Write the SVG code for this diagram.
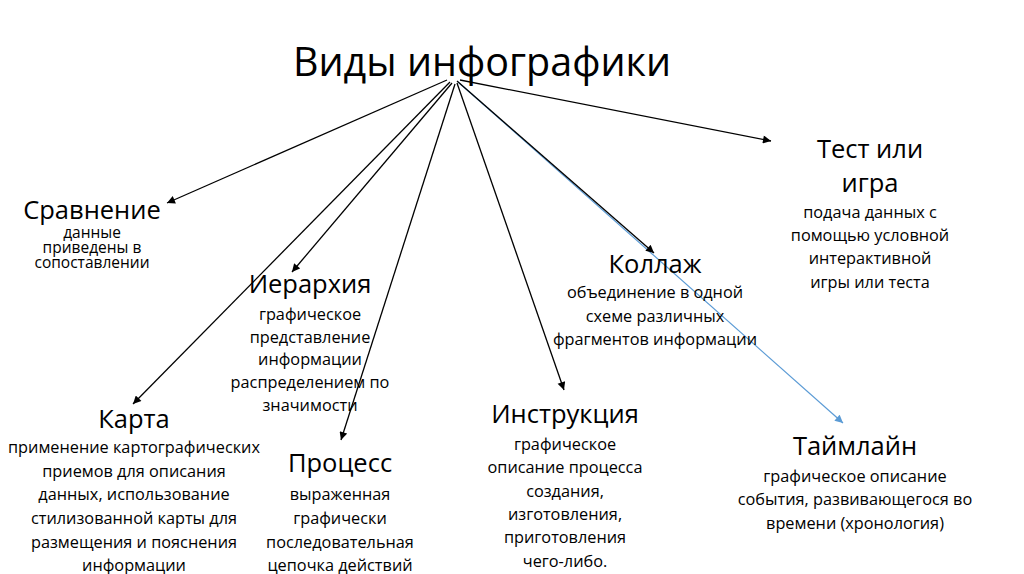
<svg xmlns="http://www.w3.org/2000/svg" width="1024" height="574" viewBox="0 0 1024 574">
<defs>
<marker id="ah" viewBox="0 0 10 10" refX="10" refY="5" markerWidth="9" markerHeight="8" markerUnits="userSpaceOnUse" orient="auto">
<path d="M0,0 L10,5 L0,10 z" fill="#000"/>
</marker>
<marker id="ahb" viewBox="0 0 10 10" refX="10" refY="5" markerWidth="9" markerHeight="8" markerUnits="userSpaceOnUse" orient="auto">
<path d="M0,0 L10,5 L0,10 z" fill="#5B9BD5"/>
</marker>
<style>
text{font-family:"Open Sans","Noto Sans","DejaVu Sans",sans-serif;fill:#000;text-anchor:middle}
.t{font-size:39.5px}
.h{font-size:25.5px}
.s{font-size:16.3px}
.ss{font-size:15.5px}
.c{stroke:#000;stroke-width:1.3;fill:none;marker-end:url(#ah)}
.cb{stroke:#5B9BD5;stroke-width:1.2;fill:none;marker-end:url(#ahb)}
</style>
</defs>
<rect width="1024" height="574" fill="#fff"/>
<g id="title"><text class="t" x="482" y="76">Виды инфографики</text></g>
<g id="connectors">
<line class="c" x1="447" y1="80" x2="167" y2="203"/>
<line class="c" x1="450" y1="82" x2="133" y2="404"/>
<line class="c" x1="452" y1="83" x2="292" y2="272"/>
<line class="c" x1="455" y1="84" x2="341" y2="440"/>
<line class="c" x1="457" y1="83" x2="564" y2="390"/>
<line class="cb" x1="458" y1="82" x2="843" y2="423"/>
<line class="c" x1="457" y1="81" x2="654" y2="253"/>
<line class="c" x1="460" y1="80" x2="771" y2="141"/>
</g>
<g id="sravnenie">
<text class="h" x="92" y="219">Сравнение</text>
<text class="ss" x="92" y="238">данные</text>
<text class="ss" x="92" y="253">приведены в</text>
<text class="ss" x="92" y="268">сопоставлении</text>
</g>
<g id="ierarhiya">
<text class="h" x="310" y="293">Иерархия</text>
<text class="s" x="310" y="320">графическое</text>
<text class="s" x="310" y="343">представление</text>
<text class="s" x="310" y="365">информации</text>
<text class="s" x="310" y="388">распределением по</text>
<text class="s" x="310" y="411">значимости</text>
</g>
<g id="karta">
<text class="h" x="134" y="428">Карта</text>
<text class="s" x="134" y="453">применение картографических</text>
<text class="s" x="134" y="477">приемов для описания</text>
<text class="s" x="134" y="500">данных, использование</text>
<text class="s" x="134" y="524">стилизованной карты для</text>
<text class="s" x="134" y="548">размещения и пояснения</text>
<text class="s" x="134" y="571">информации</text>
</g>
<g id="process">
<text class="h" x="340" y="472">Процесс</text>
<text class="s" x="340" y="500">выраженная</text>
<text class="s" x="340" y="524">графически</text>
<text class="s" x="340" y="548">последовательная</text>
<text class="s" x="340" y="571">цепочка действий</text>
</g>
<g id="instrukciya">
<text class="h" x="565" y="423">Инструкция</text>
<text class="s" x="565" y="450">графическое</text>
<text class="s" x="565" y="473">описание процесса</text>
<text class="s" x="565" y="497">создания,</text>
<text class="s" x="565" y="520">изготовления,</text>
<text class="s" x="565" y="543">приготовления</text>
<text class="s" x="565" y="567">чего-либо.</text>
</g>
<g id="kollazh">
<text class="h" x="655" y="273">Коллаж</text>
<text class="s" x="655" y="298">объединение в одной</text>
<text class="s" x="655" y="322">схеме различных</text>
<text class="s" x="655" y="345">фрагментов информации</text>
</g>
<g id="test">
<text class="h" x="870" y="158">Тест или</text>
<text class="h" x="870" y="192">игра</text>
<text class="s" x="870" y="218">подача данных с</text>
<text class="s" x="870" y="241">помощью условной</text>
<text class="s" x="870" y="264">интерактивной</text>
<text class="s" x="870" y="288">игры или теста</text>
</g>
<g id="taymlayn">
<text class="h" x="855" y="455">Таймлайн</text>
<text class="s" x="855" y="482">графическое описание</text>
<text class="s" x="855" y="505">события, развивающегося во</text>
<text class="s" x="855" y="529">времени (хронология)</text>
</g>
</svg>
